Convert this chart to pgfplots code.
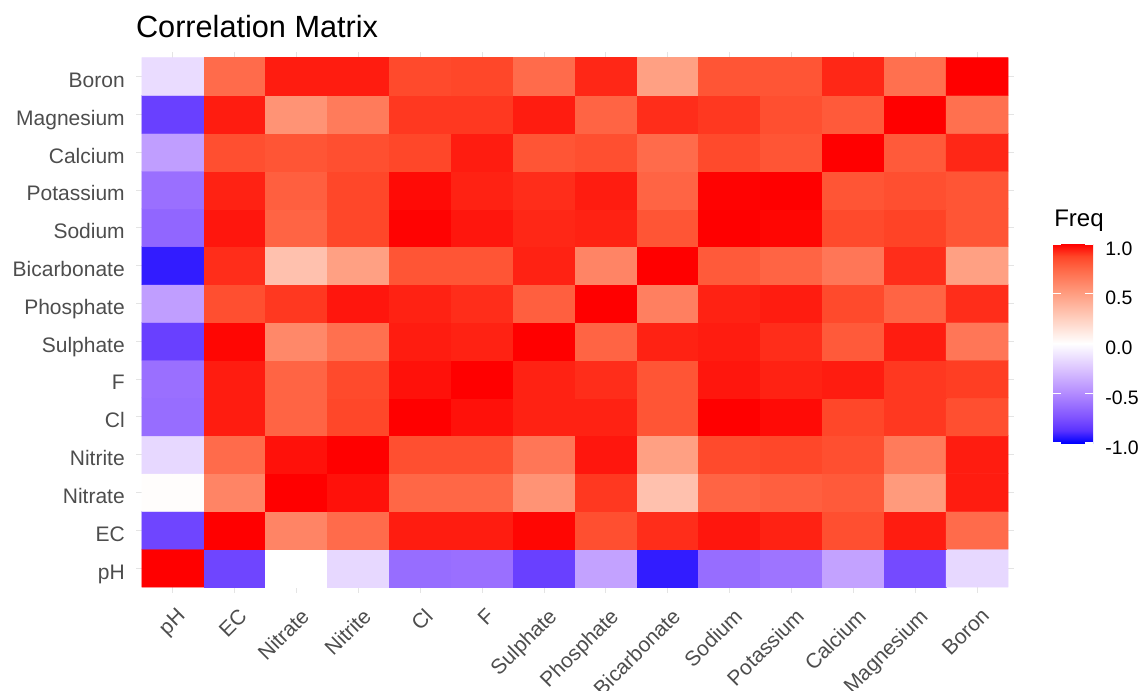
\documentclass[border=0pt]{standalone}
\usepackage{pgfplots}
\pgfplotsset{compat=1.18}
\usepackage{fontspec}
\setmainfont{Liberation Sans}
\definecolor{axgray}{RGB}{77,77,77}
\definecolor{gridgray}{RGB}{228,228,228}
\pgfplotsset{colormap={corr}{rgb255(0cm)=(0,0,255) rgb255(1cm)=(89,50,255) rgb255(2cm)=(126,81,255) rgb255(4cm)=(179,139,255) rgb255(6cm)=(220,197,255) rgb255(8cm)=(255,255,255) rgb255(10cm)=(255,207,191) rgb255(12cm)=(255,158,129) rgb255(14cm)=(255,103,70) rgb255(15cm)=(255,70,40) rgb255(16cm)=(255,0,0)}}
\begin{document}
\begin{tikzpicture}
\path[use as bounding box] (0,0) rectangle (858pt,-518.25pt);
\begin{axis}[
  at={(101.85pt,-39pt)}, anchor=north west,
  scale only axis, width=658.8pt, height=405.5pt,
  xmin=-0.6, xmax=13.6, ymin=-0.65, ymax=13.65,
  xtick={0,...,13}, ytick={0,...,13},
  xticklabels={pH,EC,Nitrate,Nitrite,Cl,F,Sulphate,Phosphate,Bicarbonate,Sodium,Potassium,Calcium,Magnesium,Boron},
  yticklabels={pH,EC,Nitrate,Nitrite,Cl,F,Sulphate,Phosphate,Bicarbonate,Sodium,Potassium,Calcium,Magnesium,Boron},
  major tick length=0pt,
  axis line style={draw=none},
  grid=major, major grid style={draw=gridgray, line width=0.75pt},
  every x tick label/.style={rotate=45, anchor=north east, inner sep=0pt, xshift=-5.8pt, yshift=-9.0pt, font=\fontsize{15.75}{18}\selectfont, text=axgray},
  every y tick label/.style={anchor=base east, inner sep=0pt, xshift=-8.1pt, yshift=-8.2pt, font=\fontsize{15.75}{18}\selectfont, text=axgray},
  colormap name=corr, point meta min=-1, point meta max=1,
  colorbar, colorbar/width=30pt,
  colorbar style={
    at={(parent axis.north east)}, anchor=north west, xshift=20.56pt, yshift=-144pt,
    scale only axis, width=30pt, height=149.25pt,
    ytick={-1,-0.5,0,0.5,1}, yticklabels={-1.0,-0.5,0.0,0.5,1.0},
    every y tick label/.style={anchor=base west, inner sep=0pt, xshift=9pt, yshift=-8.25pt, font=\fontsize{14.6}{17}\selectfont, text=black},
    axis line style={draw=none},
    major tick length=6pt, tick align=inside, ytick pos=both,
    major tick style={draw=white, line width=0.8pt},
    grid=none,
  },
]
\addplot[matrix plot*, mesh/cols=14, point meta=explicit] table[meta=c]{
x y c
0 0 1
1 0 -0.8
2 0 0.0
3 0 -0.17
4 0 -0.63
5 0 -0.62
6 0 -0.82
7 0 -0.4
8 0 -0.93
9 0 -0.63
10 0 -0.6
11 0 -0.4
12 0 -0.78
13 0 -0.17
0 1 -0.8
1 1 1
2 1 0.62
3 1 0.73
4 1 0.95
5 1 0.95
6 1 0.99
7 1 0.84
8 1 0.92
9 1 0.96
10 1 0.94
11 1 0.84
12 1 0.95
13 1 0.73
0 2 0.01
1 2 0.62
2 2 1
3 2 0.97
4 2 0.75
5 2 0.75
6 2 0.55
7 2 0.9
8 2 0.32
9 2 0.76
10 2 0.78
11 2 0.8
12 2 0.52
13 2 0.95
0 3 -0.17
1 3 0.73
2 3 0.97
3 3 1
4 3 0.84
5 3 0.84
6 3 0.68
7 3 0.96
8 3 0.49
9 3 0.86
10 3 0.87
11 3 0.84
12 3 0.66
13 3 0.95
0 4 -0.63
1 4 0.95
2 4 0.76
3 4 0.87
4 4 1
5 4 0.97
6 4 0.94
7 4 0.94
8 4 0.82
9 4 1.0
10 4 0.98
11 4 0.87
12 4 0.9
13 4 0.84
0 5 -0.62
1 5 0.95
2 5 0.76
3 5 0.86
4 5 0.97
5 5 1
6 5 0.94
7 5 0.92
8 5 0.82
9 5 0.96
10 5 0.94
11 5 0.95
12 5 0.9
13 5 0.89
0 6 -0.82
1 6 0.99
2 6 0.6
3 6 0.71
4 6 0.95
5 6 0.94
6 6 1
7 6 0.76
8 6 0.94
9 6 0.95
10 6 0.92
11 6 0.8
12 6 0.95
13 6 0.68
0 7 -0.42
1 7 0.84
2 7 0.9
3 7 0.96
4 7 0.94
5 7 0.92
6 7 0.78
7 7 1
8 7 0.64
9 7 0.94
10 7 0.95
11 7 0.86
12 7 0.76
13 7 0.92
0 8 -0.93
1 8 0.92
2 8 0.32
3 8 0.49
4 8 0.82
5 8 0.82
6 8 0.94
7 8 0.62
8 8 1
9 8 0.8
10 8 0.76
11 8 0.68
12 8 0.92
13 8 0.49
0 9 -0.66
1 9 0.96
2 9 0.76
3 9 0.87
4 9 0.995
5 9 0.96
6 9 0.93
7 9 0.94
8 9 0.82
9 9 1
10 9 0.99
11 9 0.86
12 9 0.88
13 9 0.82
0 10 -0.62
1 10 0.94
2 10 0.78
3 10 0.87
4 10 0.98
5 10 0.94
6 10 0.92
7 10 0.95
8 10 0.76
9 10 0.995
10 10 1
11 10 0.82
12 10 0.84
13 10 0.82
0 11 -0.42
1 11 0.84
2 11 0.82
3 11 0.84
4 11 0.87
5 11 0.95
6 11 0.82
7 11 0.84
8 11 0.73
9 11 0.86
10 11 0.82
11 11 1
12 11 0.8
13 11 0.93
0 12 -0.82
1 12 0.95
2 12 0.55
3 12 0.66
4 12 0.9
5 12 0.9
6 12 0.95
7 12 0.76
8 12 0.92
9 12 0.9
10 12 0.84
11 12 0.8
12 12 1
13 12 0.71
0 13 -0.15
1 13 0.73
2 13 0.95
3 13 0.95
4 13 0.86
5 13 0.87
6 13 0.73
7 13 0.93
8 13 0.49
9 13 0.82
10 13 0.82
11 13 0.93
12 13 0.71
13 13 1
};
\end{axis}
\node[anchor=base west, inner sep=0pt, font=\fontsize{23}{27}\selectfont] at (101.85pt,-28.5pt) {Correlation Matrix};
\node[anchor=base west, inner sep=0pt, font=\fontsize{18}{21}\selectfont] at (790.5pt,-170.25pt) {Freq};
\end{tikzpicture}
\end{document}
